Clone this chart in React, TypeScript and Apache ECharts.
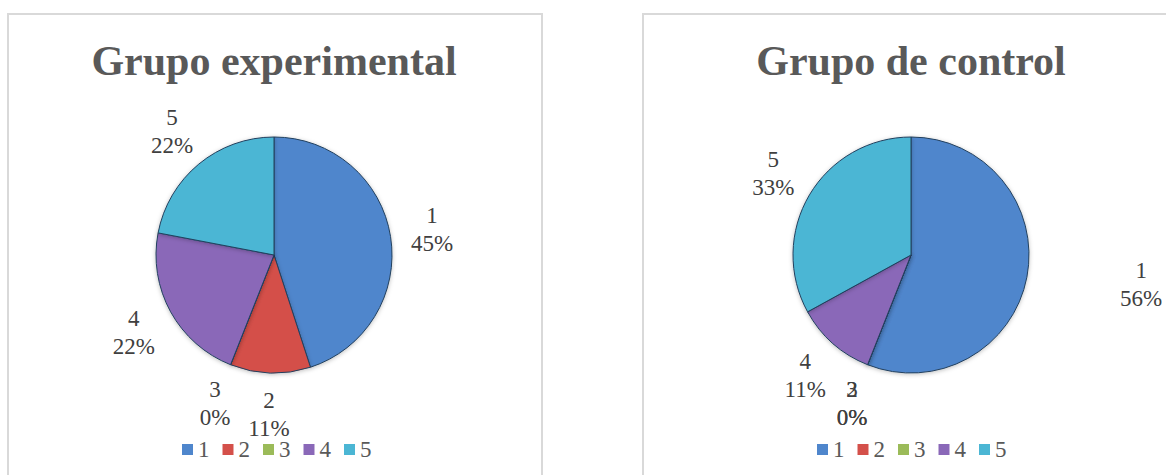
import React, { useEffect, useRef } from "react";
import * as echarts from "echarts";

const categories = ["1", "2", "3", "4", "5"];
const experimentalValues = [45, 11, 0, 22, 22];
const controlValues = [56, 0, 0, 11, 33];
const titles = ["Grupo experimental", "Grupo de control"];
const sliceColors = ["#4F86CC", "#D4504A", "#9BBB59", "#8A68B8", "#4BB6D4"];

const SERIF = "'Liberation Serif', 'Times New Roman', serif";

export default function App() {
  const ref = useRef<HTMLDivElement>(null);
  useEffect(() => {
    if (!ref.current) return;
    const chart = echarts.init(ref.current, undefined, { renderer: "svg" });
    const centers: [number, number][] = [
      [274, 255],
      [911, 255],
    ];
    const valueSets = [experimentalValues, controlValues];

    const series: any[] = [];
    valueSets.forEach((vals, i) => {
      series.push({
        type: "pie",
        name: titles[i],
        center: centers[i],
        radius: 118,
        startAngle: 90,
        clockwise: true,
        avoidLabelOverlap: false,
        label: { show: false },
        labelLine: { show: false },
        emphasis: { disabled: true },
        itemStyle: {
          borderColor: "#22405E",
          borderWidth: 1,
          shadowBlur: 4,
          shadowColor: "rgba(0,0,0,0.25)",
          shadowOffsetY: 1,
        },
        data: categories.map((c, k) => ({
          name: c,
          value: vals[k],
          itemStyle: { color: sliceColors[k] },
        })),
      });
    });
    valueSets.forEach((vals, i) => {
      series.push({
        type: "pie",
        name: titles[i] + " labels",
        center: centers[i],
        radius: [143, 171],
        startAngle: 90,
        clockwise: true,
        silent: true,
        avoidLabelOverlap: false,
        itemStyle: { color: "rgba(0,0,0,0)", borderWidth: 0 },
        emphasis: { disabled: true },
        labelLine: { show: false },
        label: {
          show: true,
          position: "inside",
          formatter: "{b}\n{d}%",
          fontFamily: SERIF,
          fontSize: 23,
          lineHeight: 28,
          color: "#404040",
        },
        labelLayout:
          i === 1
            ? (p: any) => (p.dataIndex === 0 ? { dx: 73 } : {})
            : undefined,
        data: categories.map((c, k) => ({ name: c, value: vals[k] })),
      });
    });

    chart.setOption({
      animation: false,
      backgroundColor: "#ffffff",
      title: titles.map((t, i) => ({
        text: t,
        left: centers[i][0],
        top: 40,
        padding: 0,
        textAlign: "center",
        textStyle: {
          fontFamily: SERIF,
          fontWeight: "bold",
          fontSize: 42,
          lineHeight: 42,
          color: "#595959",
        },
      })),
      legend: [182, 817].map((l) => ({
        data: categories,
        left: l,
        top: 438,
        padding: 0,
        orient: "horizontal",
        icon: "rect",
        itemWidth: 11,
        itemHeight: 11,
        itemGap: 13,
        selectedMode: false,
        itemStyle: { borderWidth: 0, shadowBlur: 0 },
        textStyle: {
          fontFamily: SERIF,
          fontSize: 23,
          color: "#595959",
        },
      })),
      graphic: [
        {
          type: "rect",
          shape: { x: 8, y: 14, width: 534, height: 500 },
          style: { fill: "none", stroke: "#D9D9D9", lineWidth: 2 },
          silent: true,
        },
        {
          type: "rect",
          shape: { x: 643, y: 14, width: 540, height: 500 },
          style: { fill: "none", stroke: "#D9D9D9", lineWidth: 2 },
          silent: true,
        },
      ],
      series,
    });
    return () => chart.dispose();
  }, []);

  return (
    <div
      ref={ref}
      style={{ position: "absolute", left: 0, top: 0, width: 1166, height: 475 }}
    />
  );
}
